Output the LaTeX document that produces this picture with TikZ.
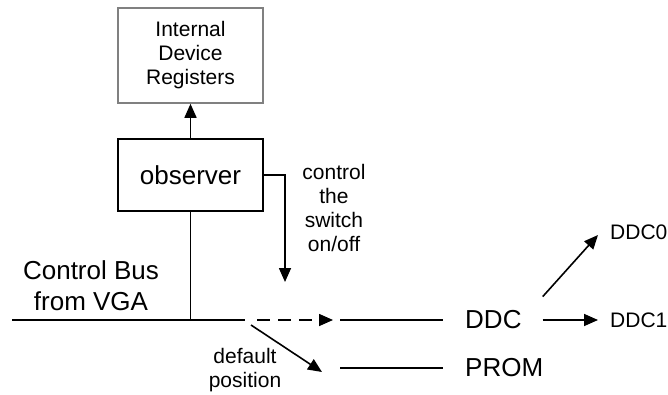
\documentclass[tikz,border=0pt]{standalone}
\usepackage{fontspec}
\setmainfont{Liberation Sans}
\usetikzlibrary{arrows.meta}
\usetikzlibrary{positioning}
\tikzset{
  box/.style={draw, line width=1.6pt, minimum width=145pt, inner sep=0},
  big/.style={font=\fontsize{26}{31}\selectfont, align=center, inner sep=0},
  small/.style={font=\fontsize{21}{24}\selectfont, align=center, inner sep=0},
  wire/.style={line width=1.6pt},
  arrow/.style={-{Triangle[length=14pt,width=12pt]}, line width=1.6pt}
}

\begin{document}
\begin{tikzpicture}[x=1pt,y=-1pt]
  \useasboundingbox (0,0) rectangle (668,395);
  % boxes
  \node[box, draw=black!50, minimum height=95pt, small] (regs) at (190.5,55.5) {Internal\\Device\\Registers};
  \node[box, minimum height=72pt, big] (obs) at (190.5,175) {observer};
  % texts
  \node[big] (vga) at (91,286) {Control Bus\\from VGA};
  \node[small] (ctrl) at (334,208) {control\\the\\switch\\on/off};
  \node[small] (dflt) at (245,370) {default\\position};
  \node[big, anchor=west] (ddc) at (465,320) {DDC};
  \node[big, anchor=west] (prom) at (465,368) {PROM};
  \node[small, anchor=west] (ddc0) at (610,232) {DDC0};
  \node[small, anchor=west] (ddc1) at (610,320) {DDC1};
  % bus and switch
  \coordinate (busL) at (12,320);
  \coordinate (busR) at (245,320);
  \coordinate (sw) at (285,282);
  \coordinate (dashS) at (257,320);
  \coordinate (dashE) at (333,320);
  \coordinate (dfltS) at (251,325);
  \coordinate (dfltE) at (322,372);
  \coordinate (ddcL) at (340,320);
  \coordinate (promL) at (340,368);
  \draw[wire] (busL) -- (busR);
  \draw[wire] (obs.south) -- (obs.south |- busL);
  \draw[arrow] (obs.north) -- (regs.south);
  \draw[arrow] (obs.east) -| (sw);
  \draw[arrow, dash pattern=on 13pt off 8pt] (dashS) -- (dashE);
  \draw[arrow] (dfltS) -- (dfltE);
  \draw[wire] (ddcL) -- ([xshift=-22pt]ddc.west);
  \draw[wire] (promL) -- ([xshift=-22pt]prom.west |- promL);
  \draw[arrow, shorten >=12pt] ([xshift=21pt]ddc.east) -- (ddc1.west);
  \draw[arrow] ([xshift=21pt,yshift=14pt]ddc.north east) -- ([xshift=-12pt,yshift=-3pt]ddc0.west);
\end{tikzpicture}
\end{document}
